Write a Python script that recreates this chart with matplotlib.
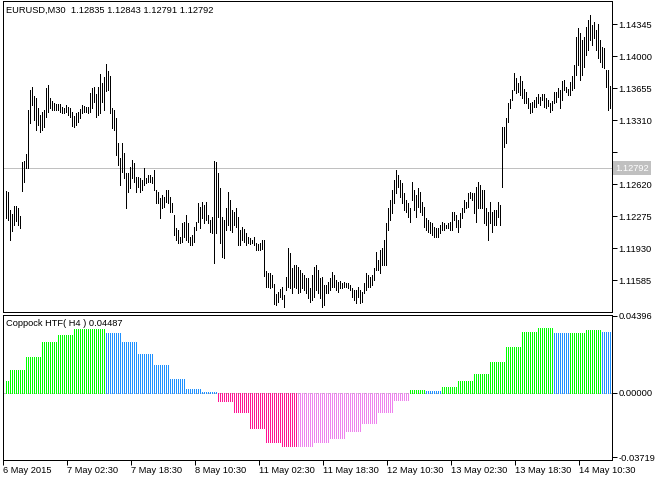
import numpy as np
import matplotlib
matplotlib.use("Agg")
import matplotlib.pyplot as plt
import matplotlib.transforms as mtransforms

plt.rcParams["font.family"] = ["Liberation Sans", "DejaVu Sans"]

symbol = "EURUSD,M30"
last_ohlc = ["1.12835", "1.12843", "1.12791", "1.12792"]
current_price = 1.12792
indicator_name = "Coppock HTF( H4 )"
indicator_value = "0.04487"

# M30 bars, high / low
high = [
    1.1254, 1.1253, 1.1234, 1.1230, 1.1238, 1.1238, 1.1236, 1.1228, 1.1286, 1.1287,
    1.1294, 1.1342, 1.1363, 1.1367, 1.1357, 1.1355, 1.1344, 1.1336, 1.1340, 1.1342,
    1.1366, 1.1369, 1.1355, 1.1352, 1.1349, 1.1348, 1.1348, 1.1348, 1.1345, 1.1344,
    1.1347, 1.1345, 1.1344, 1.1340, 1.1335, 1.1339, 1.1340, 1.1343, 1.1347, 1.1346,
    1.1345, 1.1345, 1.1360, 1.1366, 1.1367, 1.1359, 1.1367, 1.1381, 1.1371, 1.1377,
    1.1391, 1.1384, 1.1379, 1.1344, 1.1342, 1.1333, 1.1306, 1.1290, 1.1306, 1.1296,
    1.1274, 1.1274, 1.1280, 1.1288, 1.1285, 1.1270, 1.1270, 1.1269, 1.1266, 1.1279,
    1.1269, 1.1272, 1.1272, 1.1270, 1.1277, 1.1256, 1.1253, 1.1247, 1.1250, 1.1248,
    1.1256, 1.1256, 1.1248, 1.1242, 1.1229, 1.1215, 1.1212, 1.1205, 1.1220, 1.1221,
    1.1229, 1.1220, 1.1205, 1.1207, 1.1216, 1.1221, 1.1242, 1.1237, 1.1243, 1.1239,
    1.1243, 1.1229, 1.1223, 1.1227, 1.1287, 1.1286, 1.1274, 1.1258, 1.1227, 1.1223,
    1.1236, 1.1253, 1.1245, 1.1234, 1.1232, 1.1236, 1.1227, 1.1212, 1.1216, 1.1214,
    1.1209, 1.1205, 1.1204, 1.1202, 1.1205, 1.1198, 1.1197, 1.1198, 1.1202, 1.1202,
    1.1168, 1.1166, 1.1166, 1.1164, 1.1154, 1.1143, 1.1146, 1.1149, 1.1151, 1.1142,
    1.1162, 1.1193, 1.1188, 1.1172, 1.1175, 1.1175, 1.1173, 1.1169, 1.1166, 1.1164,
    1.1161, 1.1161, 1.1150, 1.1164, 1.1173, 1.1175, 1.1169, 1.1161, 1.1162, 1.1153,
    1.1153, 1.1156, 1.1161, 1.1167, 1.1164, 1.1159, 1.1156, 1.1157, 1.1155, 1.1156,
    1.1155, 1.1155, 1.1153, 1.1150, 1.1148, 1.1148, 1.1151, 1.1148, 1.1146, 1.1155,
    1.1166, 1.1164, 1.1162, 1.1164, 1.1172, 1.1189, 1.1180, 1.1191, 1.1193, 1.1202,
    1.1220, 1.1236, 1.1245, 1.1256, 1.1266, 1.1277, 1.1272, 1.1266, 1.1263, 1.1252,
    1.1245, 1.1242, 1.1236, 1.1264, 1.1256, 1.1250, 1.1258, 1.1253, 1.1243, 1.1237,
    1.1225, 1.1223, 1.1221, 1.1220, 1.1216, 1.1215, 1.1215, 1.1218, 1.1221, 1.1220,
    1.1218, 1.1220, 1.1221, 1.1232, 1.1232, 1.1229, 1.1223, 1.1231, 1.1236, 1.1245,
    1.1243, 1.1252, 1.1253, 1.1252, 1.1252, 1.1259, 1.1264, 1.1261, 1.1256, 1.1256,
    1.1236, 1.1232, 1.1243, 1.1232, 1.1234, 1.1234, 1.1243, 1.1239, 1.1323, 1.1323,
    1.1333, 1.1349, 1.1354, 1.1363, 1.1382, 1.1376, 1.1371, 1.1379, 1.1373, 1.1364,
    1.1361, 1.1355, 1.1349, 1.1350, 1.1353, 1.1356, 1.1359, 1.1356, 1.1359, 1.1359,
    1.1355, 1.1353, 1.1349, 1.1352, 1.1361, 1.1361, 1.1366, 1.1363, 1.1373, 1.1374,
    1.1367, 1.1364, 1.1372, 1.1379, 1.1390, 1.1421, 1.1430, 1.1425, 1.1417, 1.1421,
    1.1431, 1.1439, 1.1444, 1.1433, 1.1437, 1.1428, 1.1435, 1.1417, 1.1410, 1.1409,
    1.1385, 1.1385, 1.1368,
]
low = [
    1.1225, 1.1223, 1.1202, 1.1211, 1.1218, 1.1222, 1.1218, 1.1215, 1.1254, 1.1264,
    1.1279, 1.1279, 1.1328, 1.1347, 1.1331, 1.1320, 1.1326, 1.1318, 1.1320, 1.1324,
    1.1334, 1.1340, 1.1344, 1.1342, 1.1342, 1.1342, 1.1342, 1.1340, 1.1339, 1.1339,
    1.1340, 1.1336, 1.1334, 1.1325, 1.1324, 1.1326, 1.1329, 1.1333, 1.1339, 1.1340,
    1.1340, 1.1339, 1.1340, 1.1344, 1.1350, 1.1334, 1.1336, 1.1339, 1.1350, 1.1342,
    1.1362, 1.1363, 1.1339, 1.1322, 1.1320, 1.1293, 1.1283, 1.1261, 1.1275, 1.1269,
    1.1236, 1.1253, 1.1258, 1.1269, 1.1264, 1.1253, 1.1259, 1.1253, 1.1256, 1.1261,
    1.1263, 1.1264, 1.1264, 1.1263, 1.1256, 1.1242, 1.1242, 1.1225, 1.1236, 1.1237,
    1.1243, 1.1242, 1.1232, 1.1232, 1.1207, 1.1202, 1.1198, 1.1198, 1.1200, 1.1205,
    1.1202, 1.1200, 1.1196, 1.1196, 1.1200, 1.1212, 1.1221, 1.1215, 1.1225, 1.1220,
    1.1223, 1.1220, 1.1210, 1.1209, 1.1177, 1.1209, 1.1227, 1.1198, 1.1183, 1.1182,
    1.1212, 1.1218, 1.1212, 1.1210, 1.1218, 1.1216, 1.1196, 1.1196, 1.1202, 1.1200,
    1.1196, 1.1198, 1.1197, 1.1198, 1.1196, 1.1191, 1.1191, 1.1191, 1.1192, 1.1163,
    1.1151, 1.1151, 1.1150, 1.1151, 1.1133, 1.1132, 1.1135, 1.1140, 1.1138, 1.1129,
    1.1148, 1.1151, 1.1150, 1.1145, 1.1151, 1.1150, 1.1145, 1.1146, 1.1150, 1.1148,
    1.1145, 1.1139, 1.1135, 1.1137, 1.1140, 1.1148, 1.1145, 1.1139, 1.1129, 1.1132,
    1.1145, 1.1145, 1.1148, 1.1151, 1.1151, 1.1148, 1.1146, 1.1150, 1.1150, 1.1151,
    1.1151, 1.1150, 1.1148, 1.1140, 1.1137, 1.1134, 1.1140, 1.1134, 1.1135, 1.1145,
    1.1148, 1.1151, 1.1151, 1.1153, 1.1159, 1.1169, 1.1169, 1.1166, 1.1175, 1.1175,
    1.1175, 1.1212, 1.1223, 1.1231, 1.1242, 1.1252, 1.1259, 1.1248, 1.1242, 1.1234,
    1.1232, 1.1227, 1.1221, 1.1245, 1.1234, 1.1227, 1.1237, 1.1232, 1.1229, 1.1216,
    1.1212, 1.1210, 1.1209, 1.1207, 1.1205, 1.1205, 1.1205, 1.1209, 1.1212, 1.1212,
    1.1215, 1.1215, 1.1212, 1.1212, 1.1223, 1.1216, 1.1210, 1.1216, 1.1225, 1.1232,
    1.1236, 1.1237, 1.1247, 1.1245, 1.1231, 1.1221, 1.1236, 1.1236, 1.1236, 1.1220,
    1.1218, 1.1202, 1.1220, 1.1210, 1.1218, 1.1218, 1.1227, 1.1218, 1.1259, 1.1302,
    1.1306, 1.1329, 1.1344, 1.1353, 1.1363, 1.1360, 1.1361, 1.1358, 1.1355, 1.1349,
    1.1349, 1.1344, 1.1339, 1.1340, 1.1345, 1.1345, 1.1349, 1.1347, 1.1353, 1.1345,
    1.1344, 1.1346, 1.1340, 1.1342, 1.1349, 1.1350, 1.1356, 1.1344, 1.1353, 1.1363,
    1.1361, 1.1358, 1.1358, 1.1363, 1.1366, 1.1380, 1.1390, 1.1374, 1.1380, 1.1388,
    1.1401, 1.1407, 1.1417, 1.1412, 1.1419, 1.1407, 1.1398, 1.1394, 1.1388, 1.1387,
    1.1367, 1.1342, 1.1344,
]

# Coppock HTF(H4): one value per H4 bar, held over its M30 bars
coppock_h4 = [
    0.0063, 0.0130, 0.0201, 0.0287, 0.0331, 0.0363, 0.0364, 0.0342, 0.0287, 0.0220,
    0.0155, 0.0079, 0.0021, 0.0003, -0.0046, -0.0109, -0.0201, -0.0281, -0.0309, -0.0309,
    -0.0281, -0.0261, -0.0223, -0.0175, -0.0109, -0.0042, 0.0015, 0.0006, 0.0031, 0.0063,
    0.0107, 0.0172, 0.0262, 0.0348, 0.0371, 0.0338, 0.0342, 0.0359, 0.0348,
]
m30_per_h4 = [2] + [8] * 37 + [5]

price_ticks = [1.14345, 1.14000, 1.13655, 1.13310, 1.12965, 1.12620, 1.12275, 1.11930, 1.11585]
price_labels = ["1.14345", "1.14000", "1.13655", "1.13310", "", "1.12620", "1.12275", "1.11930", "1.11585"]
coppock_ticks = [0.04396, 0.0, -0.03719]
coppock_labels = ["0.04396", "0.00000", "-0.03719"]
time_labels = ["6 May 2015", "7 May 02:30", "7 May 18:30", "8 May 10:30", "11 May 02:30",
               "11 May 18:30", "12 May 10:30", "13 May 02:30", "13 May 18:30", "14 May 10:30"]

W, H = 663, 479
fig = plt.figure(figsize=(W / 100, H / 100), dpi=100)
px = 0.72  # one pixel in points


def pane(left, top, right, bottom):
    a = fig.add_axes([left / W, 1 - bottom / H, (right - left) / W, (bottom - top) / H])
    for s in a.spines.values():
        s.set_linewidth(px)
    return a


n = len(high)
x = np.arange(n)

# price pane
ax = pane(2.5, 0.5, 611.5, 311.5)
ax.vlines(x, low, high, colors="black", lw=px, antialiased=False)
ax.axhline(current_price, color="#C0C0C0", lw=px, zorder=0)
ax.set_xlim(-1.5, n)
ax.set_ylim(1.11246, 1.14599)
ax.set_xticks([])
ax.yaxis.tick_right()
ax.set_yticks(price_ticks)
ax.set_yticklabels(price_labels)
ax.tick_params(axis="y", direction="out", length=3.5, width=px, pad=1.5, labelsize=6.7)
trans = mtransforms.blended_transform_factory(ax.transAxes, ax.transData)
ax.text(1.006, current_price, f"{current_price:.5f}", transform=trans, color="white",
        fontsize=6.7, va="center", ha="left", clip_on=False,
        bbox=dict(boxstyle="square,pad=0.25", fc="#C0C0C0", ec="none"))
fig.text(6 / W, 1 - 10 / H, f"{symbol}  " + " ".join(last_ohlc), fontsize=6.7, va="center")

# indicator pane
ax2 = pane(2.5, 314.5, 611.5, 459.5)
vals = np.array(coppock_h4)
prev = np.r_[vals[0] - 1, vals[:-1]]
cols = np.where(vals >= 0,
                np.where(vals >= prev, "#00FF00", "#1E90FF"),
                np.where(vals < prev, "#FF1493", "#EE82EE"))
hist = np.repeat(vals, m30_per_h4)
hist_cols = np.repeat(cols, m30_per_h4)
ax2.vlines(x, 0, hist, colors=hist_cols, lw=px, antialiased=False)
ax2.axhline(0, color="#C0C0C0", lw=px, ls=(0, (3, 3)), zorder=0)
ax2.set_xlim(-1.5, n)
ax2.set_ylim(-0.03837, 0.04467)
ax2.yaxis.tick_right()
ax2.set_yticks(coppock_ticks)
ax2.set_yticklabels(coppock_labels)
ax2.tick_params(axis="y", direction="out", length=3.5, width=px, pad=1.5, labelsize=6.7)
ax2.set_xticks([-1.45 + 32 * k for k in range(len(time_labels))])
ax2.set_xticklabels(time_labels, ha="left")
ax2.tick_params(axis="x", direction="out", length=3.5, width=px, pad=1.5, labelsize=6.7)
fig.text(6 / W, 1 - 323 / H, f"{indicator_name} {indicator_value}", fontsize=6.7, va="center")

fig.savefig("out.png", dpi=100)
